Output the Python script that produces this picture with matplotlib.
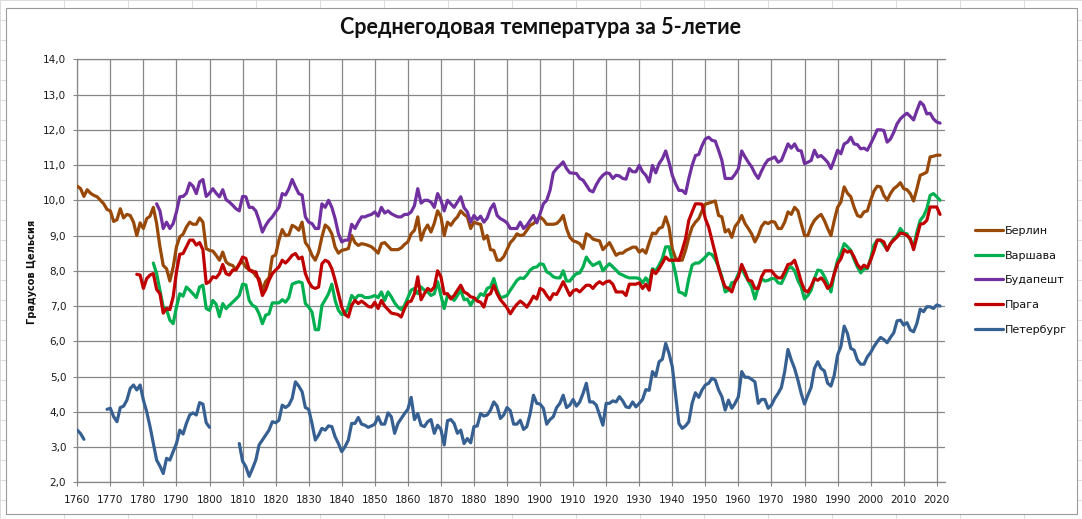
import numpy as np
import matplotlib
matplotlib.use("Agg")
import matplotlib.pyplot as plt
from matplotlib.ticker import FuncFormatter
from matplotlib.patches import Rectangle
from matplotlib.lines import Line2D

N = None

title = "Среднегодовая температура за 5-летие"
ylabel = "Градусов Цельсия"
labels = ["Берлин", "Варшава", "Будапешт", "Прага", "Петербург"]
colors = ["#984807", "#00B050", "#7030A0", "#C00000", "#376092"]

berlin_start = 1760
berlin = [
    10.40, 10.33, 10.11, 10.30, 10.20, 10.14, 10.10, 10.00, 9.90, 9.74,
    9.70, 9.40, 9.45, 9.76, 9.50, 9.60, 9.57, 9.38, 9.00, 9.36,
    9.20, 9.48, 9.55, 9.80, 9.34, 8.68, 8.15, 8.06, 7.71, 8.10,
    8.68, 8.96, 9.04, 9.24, 9.38, 9.32, 9.32, 9.50, 9.38, 8.63,
    8.58, 8.56, 8.44, 8.30, 8.53, 8.25, 8.18, 8.15, 8.03, 8.20,
    8.25, 8.10, 8.03, 8.00, 7.85, 7.78, 7.45, 7.70, 7.80, 8.40,
    8.45, 8.87, 9.17, 9.00, 9.02, 9.29, 9.24, 9.15, 9.38, 8.80,
    8.67, 8.44, 8.30, 8.53, 8.96, 9.30, 9.22, 9.05, 8.67, 8.50,
    8.58, 8.60, 8.63, 9.00, 8.80, 8.72, 8.77, 8.75, 8.72, 8.68,
    8.60, 8.50, 8.77, 8.80, 8.70, 8.60, 8.60, 8.60, 8.65, 8.75,
    8.82, 9.05, 9.15, 9.53, 8.87, 9.15, 9.30, 9.10, 9.35, 9.70,
    9.53, 9.00, 9.38, 9.29, 9.43, 9.53, 9.70, 9.60, 9.53, 9.20,
    9.38, 9.34, 9.32, 8.90, 9.00, 8.60, 8.58, 8.30, 8.30, 8.40,
    8.60, 8.80, 8.90, 9.05, 9.00, 9.02, 9.15, 9.29, 9.34, 9.45,
    9.53, 9.45, 9.32, 9.32, 9.32, 9.34, 9.43, 9.57, 9.20, 8.95,
    8.85, 8.82, 8.77, 8.63, 9.05, 9.00, 8.90, 8.87, 8.85, 8.60,
    8.70, 8.80, 8.62, 8.44, 8.50, 8.50, 8.58, 8.62, 8.67, 8.67,
    8.53, 8.60, 8.50, 8.80, 9.07, 9.05, 9.20, 9.24, 9.53, 9.24,
    8.62, 8.35, 8.30, 8.30, 8.58, 8.95, 9.24, 9.38, 9.48, 9.70,
    9.89, 9.92, 9.95, 9.98, 9.57, 9.53, 9.10, 9.17, 8.95, 9.26,
    9.38, 9.57, 9.34, 9.20, 9.05, 8.82, 9.00, 9.26, 9.38, 9.34,
    9.40, 9.38, 9.20, 9.20, 9.38, 9.67, 9.60, 9.80, 9.70, 9.34,
    9.00, 9.00, 9.26, 9.43, 9.53, 9.60, 9.43, 9.20, 9.00, 9.43,
    9.80, 9.95, 10.38, 10.20, 10.10, 9.80, 9.57, 9.53, 9.67, 9.70,
    10.00, 10.26, 10.40, 10.38, 10.14, 10.00, 10.19, 10.33, 10.40, 10.50,
    10.33, 10.30, 10.19, 9.98, 10.33, 10.71, 10.75, 10.80, 11.23, 11.25,
    11.28, 11.28,
]

warsaw_start = 1783
warsaw = [
    8.22, 7.92, 7.45, 6.97, 6.90, 6.60, 6.50,
    6.97, 7.35, 7.28, 7.54, 7.45, 7.35, 7.24, 7.54, 7.59, 6.93,
    6.88, 7.16, 7.05, 6.70, 7.07, 6.93, 7.02, 7.11, 7.20, 7.30,
    7.62, 7.60, 7.16, 7.02, 6.97, 6.78, 6.50, 6.74, 6.78, 7.09,
    7.09, 7.09, 7.18, 7.11, 7.24, 7.62, 7.66, 7.69, 7.66, 7.07,
    6.97, 6.83, 6.33, 6.33, 7.02, 7.18, 7.35, 7.62, 7.16, 6.88,
    6.76, 6.78, 6.97, 7.30, 7.20, 7.30, 7.30, 7.24, 7.24, 7.26,
    7.30, 7.24, 7.40, 7.16, 7.40, 7.26, 7.09, 6.97, 6.90, 7.02,
    7.24, 7.45, 7.50, 7.35, 7.54, 7.45, 7.40, 7.30, 7.35, 7.69,
    7.30, 6.93, 7.30, 7.26, 7.16, 7.30, 7.45, 7.18, 7.20, 7.02,
    7.20, 7.20, 7.35, 7.30, 7.50, 7.54, 7.78, 7.45, 7.24, 7.26,
    7.30, 7.45, 7.59, 7.73, 7.80, 7.78, 7.88, 8.02, 8.09, 8.11,
    8.20, 8.18, 7.97, 7.92, 7.83, 7.80, 7.80, 8.00, 7.71, 7.71,
    7.83, 7.92, 7.94, 8.11, 8.39, 8.25, 8.15, 8.20, 8.25, 8.00,
    8.11, 8.20, 8.11, 8.02, 7.92, 7.88, 7.83, 7.80, 7.80, 7.80,
    7.78, 7.66, 7.80, 7.64, 8.06, 8.00, 8.16, 8.35, 8.68, 8.68,
    8.30, 7.92, 7.40, 7.37, 7.30, 7.78, 8.16, 8.22, 8.22, 8.30,
    8.39, 8.50, 8.46, 8.32, 8.11, 7.83, 7.40, 7.45, 7.66, 7.69,
    7.92, 8.06, 7.88, 7.71, 7.54, 7.20, 7.54, 7.78, 7.71, 7.73,
    7.78, 7.78, 7.66, 7.64, 7.83, 8.06, 8.11, 8.00, 7.73, 7.54,
    7.20, 7.30, 7.45, 7.78, 8.02, 8.00, 7.84, 7.64, 7.40, 7.92,
    8.30, 8.50, 8.77, 8.68, 8.58, 8.32, 8.11, 7.94, 8.06, 8.06,
    8.35, 8.73, 8.87, 8.87, 8.73, 8.60, 8.77, 8.92, 9.00, 9.20,
    9.07, 9.05, 8.87, 8.68, 9.10, 9.43, 9.55, 9.76, 10.14, 10.19,
    10.10, 10.00,
]

budapest_start = 1784
budapest = [
    9.90, 9.70, 9.20, 9.38, 9.20, 9.34,
    9.67, 10.10, 10.11, 10.20, 10.49, 10.40, 10.19, 10.52, 10.59, 10.11,
    10.20, 10.33, 10.20, 10.10, 10.30, 10.02, 9.95, 9.86, 9.76, 9.70,
    10.11, 10.10, 9.80, 9.80, 9.70, 9.43, 9.10, 9.29, 9.43, 9.53,
    9.67, 9.80, 10.19, 10.15, 10.33, 10.59, 10.38, 10.19, 10.15, 9.53,
    9.38, 9.34, 9.20, 9.20, 9.90, 9.80, 10.00, 9.80, 9.48, 9.05,
    8.82, 8.87, 8.87, 9.32, 9.20, 9.38, 9.53, 9.53, 9.57, 9.60,
    9.67, 9.55, 9.80, 9.64, 9.70, 9.62, 9.57, 9.53, 9.53, 9.60,
    9.60, 9.67, 9.85, 10.33, 9.92, 10.00, 10.00, 9.95, 9.80, 10.19,
    10.00, 9.70, 10.00, 9.90, 9.80, 9.95, 10.10, 9.79, 9.67, 9.38,
    9.57, 9.45, 9.55, 9.38, 9.50, 9.76, 9.90, 9.57, 9.48, 9.43,
    9.36, 9.20, 9.20, 9.20, 9.38, 9.20, 9.29, 9.43, 9.57, 9.36,
    9.62, 9.90, 10.00, 10.28, 10.78, 10.90, 10.99, 11.09, 10.90, 10.78,
    10.77, 10.76, 10.62, 10.57, 10.43, 10.28, 10.24, 10.44, 10.60, 10.71,
    10.78, 10.76, 10.62, 10.71, 10.69, 10.62, 10.60, 10.90, 10.81, 10.81,
    10.99, 10.81, 10.71, 10.52, 10.99, 10.78, 11.04, 11.18, 11.40, 11.08,
    10.71, 10.47, 10.28, 10.28, 10.19, 10.62, 10.99, 11.27, 11.30, 11.55,
    11.74, 11.79, 11.70, 11.68, 11.42, 11.13, 10.62, 10.62, 10.62, 10.74,
    10.90, 11.40, 11.23, 11.08, 10.95, 10.76, 10.62, 10.83, 11.02, 11.15,
    11.18, 11.23, 11.08, 11.13, 11.36, 11.60, 11.48, 11.60, 11.42, 11.40,
    11.04, 11.08, 11.13, 11.42, 11.23, 11.27, 11.18, 11.08, 10.90, 11.15,
    11.42, 11.32, 11.60, 11.65, 11.79, 11.60, 11.58, 11.46, 11.48, 11.42,
    11.60, 11.79, 12.00, 12.00, 11.98, 11.65, 11.74, 11.93, 12.17, 12.31,
    12.40, 12.47, 12.38, 12.28, 12.55, 12.79, 12.70, 12.45, 12.47, 12.31,
    12.22, 12.19,
]

prague_start = 1778
prague = [
    7.90, 7.88,
    7.50, 7.78, 7.88, 7.92, 7.47, 7.35, 6.80, 6.93, 6.90, 7.26,
    7.97, 8.47, 8.49, 8.68, 8.87, 8.87, 8.73, 8.80, 8.60, 7.64,
    7.69, 7.83, 7.80, 7.92, 8.18, 7.92, 7.88, 8.02, 8.03, 8.18,
    8.39, 8.35, 8.02, 7.97, 7.97, 7.69, 7.30, 7.47, 7.73, 7.92,
    8.02, 8.11, 8.30, 8.22, 8.32, 8.44, 8.49, 8.34, 8.39, 7.92,
    7.69, 7.54, 7.50, 7.54, 8.20, 8.30, 8.25, 8.06, 7.73, 7.35,
    6.97, 6.76, 6.69, 7.02, 7.16, 7.07, 7.14, 7.07, 6.99, 6.97,
    7.11, 6.93, 7.16, 7.00, 6.90, 6.80, 6.78, 6.76, 6.69, 6.93,
    7.11, 7.14, 7.35, 7.83, 7.18, 7.35, 7.50, 7.43, 7.54, 8.00,
    7.83, 7.35, 7.35, 7.20, 7.30, 7.45, 7.59, 7.40, 7.35, 7.26,
    7.24, 7.14, 7.11, 6.97, 7.30, 7.35, 7.59, 7.35, 7.18, 7.07,
    6.95, 6.78, 6.93, 7.05, 7.14, 7.07, 6.97, 7.11, 7.28, 7.20,
    7.50, 7.45, 7.30, 7.18, 7.35, 7.33, 7.50, 7.69, 7.50, 7.30,
    7.43, 7.47, 7.40, 7.50, 7.59, 7.59, 7.50, 7.62, 7.69, 7.62,
    7.69, 7.71, 7.62, 7.40, 7.40, 7.40, 7.30, 7.62, 7.62, 7.62,
    7.66, 7.50, 7.62, 7.45, 8.02, 7.92, 8.06, 8.22, 8.39, 8.30,
    8.30, 8.30, 8.30, 8.58, 8.91, 9.43, 9.67, 9.90, 9.90, 9.89,
    9.48, 9.24, 8.87, 8.49, 8.09, 7.78, 7.54, 7.50, 7.40, 7.69,
    7.83, 8.18, 7.97, 7.73, 7.71, 7.50, 7.50, 7.83, 8.00, 8.00,
    8.00, 7.88, 7.80, 7.80, 7.97, 8.18, 8.20, 8.30, 8.02, 7.69,
    7.45, 7.40, 7.56, 7.78, 7.73, 7.80, 7.69, 7.50, 7.59, 7.92,
    8.20, 8.34, 8.60, 8.53, 8.56, 8.39, 8.18, 8.06, 8.16, 8.09,
    8.30, 8.56, 8.87, 8.87, 8.82, 8.58, 8.77, 8.87, 8.96, 9.07,
    9.05, 9.00, 8.91, 8.60, 8.96, 9.32, 9.34, 9.43, 9.81, 9.81,
    9.81, 9.60,
]

petersburg_start = 1760
petersburg = [
    3.48, 3.38, 3.22, N, N, N, N, N, N, 4.07,
    4.10, 3.86, 3.72, 4.12, 4.16, 4.33, 4.66, 4.76, 4.62, 4.76,
    4.33, 4.00, 3.58, 3.10, 2.63, 2.46, 2.25, 2.68, 2.63, 2.87,
    3.10, 3.48, 3.37, 3.67, 3.91, 3.97, 3.91, 4.26, 4.22, 3.69,
    3.56, N, N, N, N, N, N, N, N, 3.10,
    2.60, 2.44, 2.17, 2.39, 2.63, 3.06, 3.20, 3.34, 3.48, 3.72,
    3.69, 3.76, 4.19, 4.12, 4.19, 4.38, 4.85, 4.73, 4.57, 4.12,
    4.07, 3.67, 3.20, 3.34, 3.53, 3.48, 3.60, 3.58, 3.29, 3.10,
    2.87, 3.01, 3.20, 3.67, 3.67, 3.84, 3.65, 3.62, 3.56, 3.60,
    3.65, 3.86, 3.65, 3.65, 3.97, 3.86, 3.39, 3.67, 3.81, 3.95,
    4.07, 4.41, 3.78, 3.95, 3.62, 3.58, 3.72, 3.78, 3.39, 3.62,
    3.50, 3.06, 3.75, 3.78, 3.67, 3.39, 3.48, 3.10, 3.24, 3.12,
    3.58, 3.60, 3.95, 3.88, 3.91, 4.05, 4.28, 4.16, 3.81, 3.91,
    4.12, 4.03, 3.65, 3.65, 3.76, 3.50, 3.58, 3.95, 4.47, 4.24,
    4.22, 4.10, 3.65, 3.78, 3.86, 4.12, 4.24, 4.47, 4.12, 4.19,
    4.35, 4.16, 4.28, 4.52, 4.81, 4.28, 4.28, 4.19, 3.91, 3.62,
    4.24, 4.24, 4.31, 4.28, 4.43, 4.31, 4.14, 4.12, 4.28, 4.14,
    4.24, 4.35, 4.63, 4.61, 5.14, 5.01, 5.42, 5.49, 5.94, 5.66,
    5.28, 4.47, 3.67, 3.53, 3.60, 3.72, 4.24, 4.54, 4.41, 4.62,
    4.76, 4.81, 4.95, 4.90, 4.62, 4.43, 4.05, 4.33, 4.10, 4.24,
    4.43, 5.14, 4.98, 4.98, 4.92, 4.85, 4.24, 4.35, 4.35, 4.10,
    4.19, 4.38, 4.52, 4.69, 5.14, 5.77, 5.47, 5.23, 4.90, 4.52,
    4.22, 4.47, 4.69, 5.23, 5.42, 5.23, 5.16, 4.81, 4.73, 5.04,
    5.61, 5.85, 6.43, 6.22, 5.80, 5.75, 5.47, 5.35, 5.35, 5.56,
    5.68, 5.85, 5.99, 6.11, 6.05, 5.96, 6.11, 6.24, 6.58, 6.60,
    6.46, 6.53, 6.32, 6.27, 6.51, 6.91, 6.84, 6.98, 6.98, 6.93,
    7.03, 7.00,
]

series = [
    (berlin_start, berlin),
    (warsaw_start, warsaw),
    (budapest_start, budapest),
    (prague_start, prague),
    (petersburg_start, petersburg),
]

x_ticks = list(range(1760, 2021, 10))
y_ticks = [2, 3, 4, 5, 6, 7, 8, 9, 10, 11, 12, 13, 14]

W, H = 1082, 519
fig = plt.figure(figsize=(W / 100, H / 100), dpi=100)
fig.patch.set_facecolor("white")

# faint spreadsheet cell grid behind the chart
for yy in range(0, H, 20):
    fig.add_artist(Line2D([0, 1], [1 - yy / H, 1 - yy / H], transform=fig.transFigure,
                          color="#dcdcdc", lw=0.7, zorder=-5))
for xx in range(0, W, 64):
    fig.add_artist(Line2D([xx / W, xx / W], [0, 1], transform=fig.transFigure,
                          color="#dcdcdc", lw=0.7, zorder=-5))
fig.add_artist(Rectangle((6 / W, 1 - 514 / H), (1077 - 6) / W, (514 - 8) / H,
                         transform=fig.transFigure, facecolor="white",
                         edgecolor="#9a9a9a", lw=0.8, zorder=-4))

left, right, top, bottom = 77.3, 945, 59.3, 482.3
ax = fig.add_axes([left / W, 1 - bottom / H, (right - left) / W, (bottom - top) / H])
ax.set_facecolor("white")

gridc = "#878787"
for (start, vals), lab, col in zip(series, labels, colors):
    yrs = np.arange(start, start + len(vals))
    v = np.array([np.nan if a is None else a for a in vals], dtype=float)
    ax.plot(yrs, v, color=col, lw=2.3, label=lab, solid_joinstyle="round",
            solid_capstyle="round", zorder=3)

ax.set_xlim(1760, 2022.5)
ax.set_ylim(2, 14)
ax.set_xticks(x_ticks)
ax.set_yticks(y_ticks)
ax.yaxis.set_major_formatter(FuncFormatter(lambda v, p: f"{v:.1f}".replace(".", ",")))
ax.grid(True, color=gridc, lw=0.9, zorder=0)
ax.set_axisbelow(True)
for s in ["left", "bottom", "top"]:
    ax.spines[s].set_color(gridc)
    ax.spines[s].set_linewidth(0.9)
ax.spines["right"].set_visible(False)
ax.tick_params(axis="both", direction="out", length=3, width=0.8, color=gridc,
               labelsize=7.5, labelcolor="#1a1a1a")
ax.tick_params(axis="x", pad=6)
ax.tick_params(axis="y", pad=5)

fig.text(32 / W, 1 - 272 / H, ylabel, rotation=90, ha="center", va="center",
         fontsize=7, fontweight="bold", color="#111111")
fig.text(540 / W, 1 - 28 / H, title, ha="center", va="center",
         fontsize=15.5, fontweight="bold", family="Lato", color="#111111")

leg = fig.legend(loc="upper left", bbox_to_anchor=(975 / W, 1 - 226 / H),
                 frameon=False, fontsize=8, handlelength=2.5, handletextpad=0.2,
                 labelspacing=1.32, borderpad=0, borderaxespad=0)
for t in leg.get_texts():
    t.set_color("#111111")

fig.savefig("out.png", dpi=100, facecolor="white")
